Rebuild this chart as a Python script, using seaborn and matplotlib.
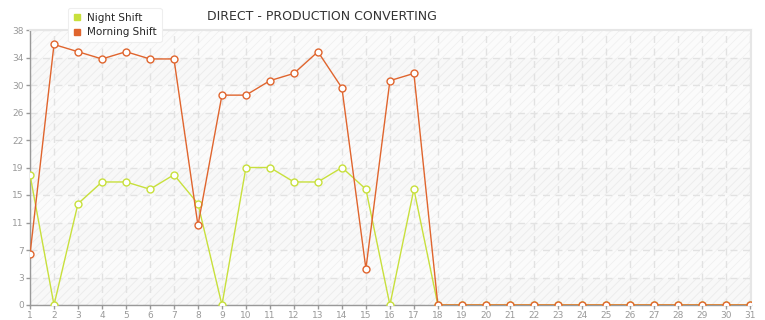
import matplotlib
matplotlib.use("Agg")
import matplotlib.pyplot as plt
import seaborn as sns
import pandas as pd
import numpy as np
from matplotlib.lines import Line2D

days = list(range(1, 32))
night_shift = [18, 0, 14, 17, 17, 16, 18, 14, 0, 19, 19, 17, 17, 19, 16, 0, 16,
               0, 0, 0, 0, 0, 0, 0, 0, 0, 0, 0, 0, 0, 0]
morning_shift = [7, 36, 35, 34, 35, 34, 34, 11, 29, 29, 31, 32, 35, 30, 5, 31, 32,
                 0, 0, 0, 0, 0, 0, 0, 0, 0, 0, 0, 0, 0, 0]
series_names = ["Night Shift", "Morning Shift"]
series_colors = ["#c8e03c", "#e0652e"]
title = "DIRECT - PRODUCTION CONVERTING"
y_max = 38

sns.set_theme(style="white")
plt.rcParams['font.family'] = ['DejaVu Sans']
plt.rcParams['hatch.linewidth'] = 0.6

fig = plt.figure(figsize=(7.65, 3.2), dpi=100)
ax = fig.add_axes([30/765, 15/320, 721/765, 275/320])

yticks = np.linspace(0, y_max, 11)
# alternating bands
for i in range(10):
    lo, hi = yticks[i], yticks[i+1]
    ax.axhspan(lo, hi, facecolor="#f8f8f8" if i % 2 == 0 else "#fbfbfb",
               edgecolor="#ebebeb" if i % 2 == 0 else "#f0f0f0",
               hatch="////", linewidth=0, zorder=0)

df = pd.DataFrame({"day": days + days,
                   "value": night_shift + morning_shift,
                   "series": [series_names[0]] * len(days) + [series_names[1]] * len(days)})

for name, col in zip(series_names, series_colors):
    sub = df[df["series"] == name]
    sns.lineplot(data=sub, x="day", y="value", ax=ax, color=col, linewidth=1.0,
                 marker="o", markersize=5, markerfacecolor="white",
                 markeredgecolor=col, markeredgewidth=1.0, zorder=3, legend=False)

ax.set_xlim(1, 31.05)
ax.set_ylim(0, y_max)
ax.set_xticks(days)
ax.set_xticklabels([str(d) for d in days])
ax.set_yticks(yticks)
ax.set_yticklabels([str(int(v)) for v in yticks])
ax.set_xlabel("")
ax.set_ylabel("")

ax.grid(True, color="#e2e2e2", linestyle=(0, (5, 4)), linewidth=1.0, zorder=1)
ax.set_axisbelow(True)
for s in ["left", "bottom"]:
    ax.spines[s].set_color("#999999")
    ax.spines[s].set_linewidth(1.0)
for s in ["top", "right"]:
    ax.spines[s].set_color("#e6e6e6")
    ax.spines[s].set_linewidth(1.5)
ax.tick_params(axis="both", which="both", direction="out", length=3, width=1,
               color="#999999", labelcolor="#999999", labelsize=6.5, pad=1.5,
               bottom=True, left=True)

fig.text(322/765, 1 - 17/320, title, ha="center", va="center",
         fontsize=9, color="#333333")

handles = [Line2D([0], [0], marker="s", linestyle="none", markersize=4.5,
                  markerfacecolor=c, markeredgecolor=c) for c in series_colors]
leg = fig.legend(handles, series_names, loc="upper left",
                 bbox_to_anchor=(68/765, 1 - 8/320), fontsize=7.5,
                 frameon=True, fancybox=True, framealpha=1, edgecolor="#eeeeee",
                 handlelength=0.8, handletextpad=0.6, labelspacing=0.45,
                 borderpad=0.45, borderaxespad=0)
leg.get_frame().set_linewidth(0.8)

fig.savefig("out.png", dpi=100)
